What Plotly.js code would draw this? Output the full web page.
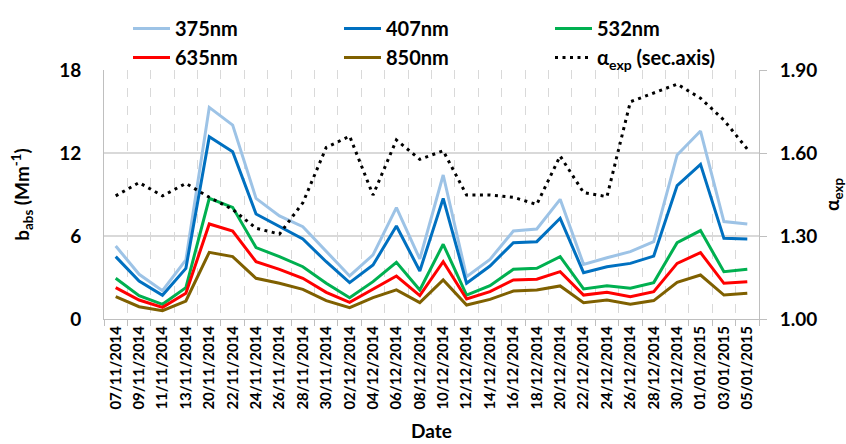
<!DOCTYPE html>
<html>
<head>
<meta charset="utf-8">
<script src="https://cdn.plot.ly/plotly-3.0.1.min.js"></script>
<style>
  html, body { margin: 0; padding: 0; background: #fff; }
  #chart { width: 846px; height: 444px; }
</style>
</head>
<body>
<div id="chart"></div>
<script>
// Sampling dates (category axis)
const dates = ['07/11/2014','09/11/2014','11/11/2014','13/11/2014','20/11/2014','22/11/2014',
  '24/11/2014','26/11/2014','28/11/2014','30/11/2014','02/12/2014','04/12/2014','06/12/2014',
  '08/12/2014','10/12/2014','12/12/2014','14/12/2014','16/12/2014','18/12/2014','20/12/2014',
  '22/12/2014','24/12/2014','26/12/2014','28/12/2014','30/12/2014','01/01/2015','03/01/2015',
  '05/01/2015'];

// Absorption coefficients b_abs (Mm^-1) per wavelength
const b375 = [5.28,3.23,2.05,4.27,15.3,14.02,8.72,7.45,6.67,4.87,3.11,4.63,8.05,4.34,10.41,3.06,4.31,6.36,6.51,8.65,3.95,4.43,4.87,5.59,11.86,13.59,7.04,6.87];
const b407 = [4.51,2.75,1.71,3.66,13.18,12.1,7.59,6.67,5.78,4.14,2.63,3.9,6.72,3.47,8.72,2.58,3.83,5.52,5.59,7.28,3.35,3.78,4.02,4.55,9.64,11.18,5.83,5.78];
const b532 = [2.94,1.69,1.06,2.27,8.72,8.07,5.16,4.51,3.78,2.58,1.54,2.7,4.1,2.1,5.4,1.73,2.41,3.59,3.66,4.51,2.17,2.41,2.22,2.63,5.52,6.39,3.42,3.59];
const b635 = [2.27,1.37,0.84,1.86,6.87,6.36,4.14,3.59,2.94,1.93,1.2,2.14,3.11,1.69,4.14,1.45,1.98,2.82,2.87,3.42,1.73,1.93,1.61,1.98,4.02,4.8,2.58,2.7];
const b850 = [1.61,0.89,0.6,1.3,4.82,4.51,2.94,2.58,2.14,1.33,0.82,1.54,2.1,1.18,2.82,1.01,1.42,2.02,2.1,2.39,1.18,1.37,1.06,1.33,2.65,3.18,1.73,1.86];

// Absorption Angstrom exponent (secondary axis)
const alphaExp = [1.445,1.493,1.445,1.49,1.44,1.396,1.328,1.307,1.42,1.62,1.661,1.448,1.647,1.577,1.608,1.448,1.448,1.44,1.414,1.589,1.457,1.442,1.785,1.816,1.849,1.798,1.719,1.614];

const FONT = 'Lato, "Open Sans", sans-serif';
const GRID = '#D9D9D9';
const AXIS = '#BFBFBF';

function series(name, y, color) {
  return { type: 'scatter', mode: 'lines', name: name, x: dates, y: y,
           line: { color: color, width: 3 } };
}

const traces = [
  series('375nm', b375, '#9DC3E6'),
  series('407nm', b407, '#0070C0'),
  series('532nm', b532, '#00B050'),
  series('635nm', b635, '#FF0000'),
  series('850nm', b850, '#7F6000'),
  { type: 'scatter', mode: 'lines', name: 'α<sub>exp</sub> (sec.axis)', x: dates, y: alphaExp,
    yaxis: 'y2', line: { color: '#000', width: 3, dash: '3px,4.5px' } }
];

const layout = {
  width: 846, height: 444,
  margin: { l: 104, r: 87, t: 70, b: 125, autoexpand: false },
  paper_bgcolor: '#fff', plot_bgcolor: '#fff',
  font: { family: FONT, size: 18, color: '#000', weight: 700 },
  showlegend: true,
  legend: {
    orientation: 'h', xref: 'paper', yref: 'paper',
    x: 24 / 655, y: 1 + 61 / 249, xanchor: 'left', yanchor: 'top',
    entrywidth: 159, entrywidthmode: 'pixels',
    font: { family: FONT, size: 20, weight: 700, color: '#000' },
    bgcolor: 'rgba(0,0,0,0)', itemwidth: 37, tracegroupgap: 0
  },
  xaxis: {
    type: 'category', range: [-0.5, 27.5],
    tickson: 'boundaries', ticks: 'outside', ticklen: 6, tickcolor: AXIS,
    showgrid: true, gridcolor: GRID, griddash: 'dash', gridwidth: 1,
    showline: true, linecolor: AXIS, linewidth: 1,
    tickangle: -90, tickfont: { family: FONT, size: 15, weight: 700 },
    title: { text: 'Date', font: { family: FONT, size: 19, weight: 700 }, standoff: 16 }
  },
  yaxis: {
    range: [0, 18], tickvals: [0, 6, 12, 18], ticks: '',
    showgrid: true, gridcolor: GRID, gridwidth: 1.5, zeroline: false,
    showline: true, linecolor: AXIS, linewidth: 1, mirror: false,
    ticklabelstandoff: 18,
    tickfont: { family: FONT, size: 19, weight: 700 },
    title: { text: 'b<sub>abs</sub> (Mm<sup>-1</sup>)', font: { family: FONT, size: 19, weight: 700 }, standoff: 24 }
  },
  yaxis2: {
    overlaying: 'y', side: 'right', range: [1.0, 1.9],
    tickvals: [1.0, 1.3, 1.6, 1.9], tickformat: '.2f',
    ticks: 'outside', ticklen: 7, tickcolor: AXIS,
    showgrid: false, zeroline: false,
    showline: true, linecolor: AXIS, linewidth: 1,
    ticklabelstandoff: 9,
    tickfont: { family: FONT, size: 19, weight: 700 },
    title: { text: 'α<sub>exp</sub>', font: { family: FONT, size: 19, weight: 700 }, standoff: 18 }
  }
};

Plotly.newPlot('chart', traces, layout, { displayModeBar: false, staticPlot: true });
</script>
</body>
</html>
